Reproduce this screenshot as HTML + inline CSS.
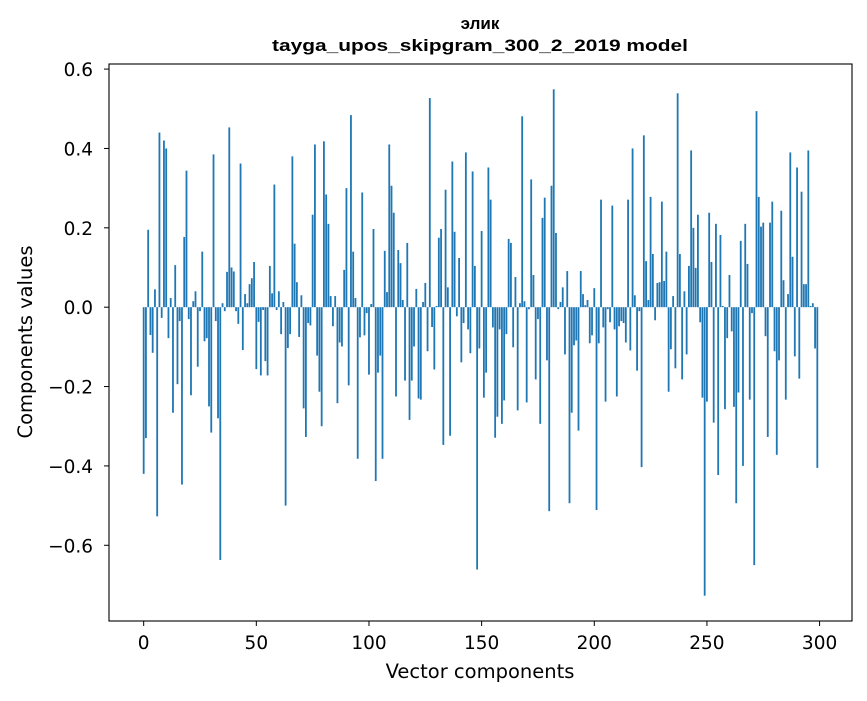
<!DOCTYPE html>
<html><head><meta charset="utf-8"><style>
body{margin:0;background:#fff;width:867px;height:696px;overflow:hidden}
svg text{font-family:"DejaVu Sans","Liberation Sans",sans-serif;fill:#000}
svg text.title{font-family:"Liberation Sans","DejaVu Sans",sans-serif}
</style></head><body>
<svg id="chart" width="867" height="696" xmlns="http://www.w3.org/2000/svg">
<text class="title" x="480" y="29" text-anchor="middle" font-size="17" font-weight="bold">элик</text>
<text class="title" x="480" y="51" text-anchor="middle" font-size="17" font-weight="bold" textLength="416" lengthAdjust="spacingAndGlyphs">tayga_upos_skipgram_300_2_2019 model</text>
<g id="bars"></g>
<g id="axes"></g>
<text x="480" y="678" text-anchor="middle" font-size="19.5">Vector components</text>
<text transform="translate(32,342) rotate(-90)" text-anchor="middle" font-size="19.5">Components values</text>
</svg>
<script>
const values = [-0.42,-0.33,0.195,-0.07,-0.115,0.045,-0.527,0.44,-0.027,0.42,0.40,-0.078,0.023,-0.266,0.106,-0.194,-0.035,-0.447,0.177,0.344,
-0.03,-0.222,0.015,0.04,-0.15,-0.01,0.14,-0.086,-0.078,-0.25,-0.316,0.385,-0.035,-0.28,-0.637,0.01,-0.01,0.089,0.453,0.10,
0.09,-0.01,-0.042,0.362,-0.108,0.033,0.01,0.058,0.073,0.114,-0.156,-0.037,-0.172,-0.007,-0.136,-0.172,0.104,0.035,0.309,-0.007,
0.04,-0.068,0.013,-0.50,-0.103,-0.068,0.38,0.16,0.063,-0.075,0.03,-0.255,-0.327,-0.04,-0.046,0.233,0.41,-0.122,-0.213,-0.30,
0.418,0.284,0.21,0.028,-0.048,0.028,-0.242,-0.089,-0.099,0.094,0.30,-0.197,0.484,0.14,0.023,-0.382,-0.076,0.289,-0.071,-0.015,
-0.17,0.008,0.197,-0.438,-0.165,-0.122,-0.382,0.142,0.038,0.41,0.306,0.238,-0.225,0.144,0.111,0.018,-0.185,0.162,-0.284,-0.185,
-0.099,0.046,-0.23,-0.233,0.013,0.061,-0.111,0.527,-0.05,-0.157,0.003,0.175,0.197,-0.347,0.296,0.05,-0.324,0.367,0.19,-0.023,
0.124,-0.139,-0.04,0.39,-0.056,-0.116,0.342,0.104,-0.661,-0.104,0.192,-0.228,-0.165,0.352,0.271,-0.051,-0.329,-0.276,-0.056,-0.294,
-0.235,-0.068,0.172,0.162,-0.101,0.076,-0.26,0.01,0.481,0.015,-0.24,-0.005,0.322,0.081,-0.182,-0.03,-0.294,0.225,0.276,-0.134,
-0.514,0.306,0.549,0.187,-0.005,0.013,0.05,-0.119,0.091,-0.494,-0.266,-0.096,-0.084,-0.311,0.091,0.033,0.005,0.018,-0.091,-0.071,
0.048,-0.511,-0.091,0.271,-0.051,-0.238,-0.005,-0.038,0.256,-0.056,-0.225,-0.048,-0.035,-0.04,-0.089,0.271,-0.109,0.40,0.03,-0.16,
-0.01,-0.403,0.433,0.116,0.018,0.278,0.134,-0.033,0.061,0.063,0.266,0.066,0.14,-0.213,-0.106,0.028,-0.154,0.539,0.134,-0.182,
0.04,-0.119,0.104,0.395,0.20,0.099,0.233,-0.038,-0.228,-0.727,-0.238,0.238,0.114,-0.291,0.21,-0.423,0.182,0.003,-0.257,-0.078,
0.081,-0.061,-0.251,-0.494,-0.215,0.167,-0.40,0.21,0.109,-0.233,-0.015,-0.65,0.494,0.278,0.203,0.213,-0.073,-0.327,0.213,0.266,
-0.111,-0.372,-0.134,0.243,0.068,-0.233,0.033,0.39,0.127,-0.124,0.352,-0.18,0.291,0.058,0.058,0.395,0.003,0.01,-0.104,-0.405];
const xTicks = [0,50,100,150,200,250,300];
const yTicks = [-0.6,-0.4,-0.2,0.0,0.2,0.4,0.6];
const yTickLabels = ["\u22120.6","\u22120.4","\u22120.2","0.0","0.2","0.4","0.6"];

const L=109,R=852,T=64,B=621,NS="http://www.w3.org/2000/svg";
const n=values.length;
const xmin=-0.4-0.05*(n-0.2), xmax=n-1+0.4+0.05*(n-0.2);
const vmin=Math.min(0,...values), vmax=Math.max(0,...values), vs=vmax-vmin;
const ymin=vmin-0.05*vs, ymax=vmax+0.05*vs;
const xs=v=>L+(v-xmin)/(xmax-xmin)*(R-L);
const ys=v=>B-(v-ymin)/(ymax-ymin)*(B-T);
const bars=document.getElementById('bars');
values.forEach((v,i)=>{
  const r=document.createElementNS(NS,'rect');
  
  
  const x0=xs(i-0.4),x1=xs(i+0.4);
  r.setAttribute('x',x0);r.setAttribute('width',x1-x0);
  r.setAttribute('y',Math.min(ys(v),ys(0)));r.setAttribute('height',Math.abs(ys(v)-ys(0)));
  r.setAttribute('fill','#1f77b4');
  bars.appendChild(r);
});
const ax=document.getElementById('axes');
const frame=document.createElementNS(NS,'rect');


frame.setAttribute('x',L);frame.setAttribute('y',T);frame.setAttribute('width',R-L);frame.setAttribute('height',B-T);
frame.setAttribute('fill','none');frame.setAttribute('stroke','#000');frame.setAttribute('stroke-width','1.1');
ax.appendChild(frame);
xTicks.forEach(t=>{
  const x=xs(t);
  const l=document.createElementNS(NS,'line');
  
  
  l.setAttribute('x1',x);l.setAttribute('x2',x);l.setAttribute('y1',B);l.setAttribute('y2',B+5);l.setAttribute('stroke','#000');
  ax.appendChild(l);
  const tx=document.createElementNS(NS,'text');
  
  
  tx.setAttribute('x',x);tx.setAttribute('y',B+28);tx.setAttribute('text-anchor','middle');tx.setAttribute('font-size','18.5');
  tx.textContent=String(t);ax.appendChild(tx);
});
yTicks.forEach((t,k)=>{
  const y=ys(t);
  const l=document.createElementNS(NS,'line');
  
  
  l.setAttribute('x1',L-5);l.setAttribute('x2',L);l.setAttribute('y1',y);l.setAttribute('y2',y);l.setAttribute('stroke','#000');
  ax.appendChild(l);
  const tx=document.createElementNS(NS,'text');
  
  
  tx.setAttribute('x',L-16);tx.setAttribute('y',y+7);tx.setAttribute('text-anchor','end');tx.setAttribute('font-size','18.5');
  tx.textContent=yTickLabels[k];ax.appendChild(tx);
});
</script>
</body></html>
